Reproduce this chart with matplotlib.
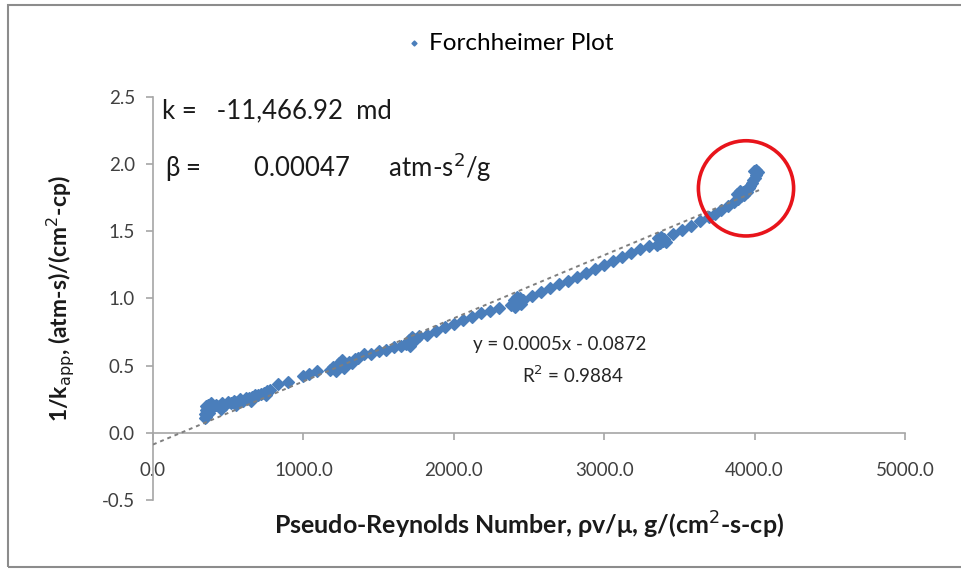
import numpy as np
import matplotlib.pyplot as plt
from matplotlib.patches import Rectangle

plt.rcParams['font.family'] = ['Lato', 'DejaVu Sans']

re_x = [345, 348, 350, 352, 355, 358, 360, 365, 370, 375, 380, 385,
        400, 420, 440, 460, 480, 500, 520, 540, 560, 580, 600, 620, 640, 660, 680, 700, 720, 740, 760, 780,
        450, 550, 650, 750,
        830, 900, 1000, 1040, 1090,
        1180, 1200, 1220, 1240, 1250, 1260, 1270, 1280, 1300, 1320, 1340, 1360,
        1400, 1450, 1500, 1550, 1600, 1650,
        1680, 1700, 1710, 1720, 1730, 1750, 1770,
        1820, 1880, 1940, 2000, 2060, 2120, 2180, 2240, 2300,
        2380, 2400, 2410, 2420, 2430, 2440, 2450, 2460,
        2520, 2580, 2640, 2700, 2760, 2820, 2880, 2940, 3000, 3060, 3120, 3180, 3240, 3300,
        3350, 3360, 3370, 3380, 3390, 3400, 3410,
        3460, 3520, 3580, 3640, 3700, 3740, 3780, 3820, 3860,
        3880, 3890, 3900, 3910, 3920, 3930, 3940, 3950, 3960,
        3970, 3980, 3990, 4000, 4010, 4020, 4010, 3995]
inv_k = [0.11, 0.14, 0.17, 0.20, 0.12, 0.16, 0.19, 0.21, 0.15, 0.18, 0.20, 0.22,
         0.19, 0.21, 0.20, 0.22, 0.21, 0.23, 0.22, 0.24, 0.23, 0.25, 0.24, 0.26, 0.26, 0.27, 0.28, 0.28, 0.29, 0.30, 0.31, 0.32,
         0.18, 0.21, 0.24, 0.28,
         0.36, 0.38, 0.42, 0.44, 0.46,
         0.47, 0.49, 0.46, 0.52, 0.50, 0.54, 0.48, 0.51, 0.53, 0.52, 0.55, 0.56,
         0.59, 0.59, 0.61, 0.62, 0.64, 0.65,
         0.66, 0.69, 0.65, 0.71, 0.68, 0.70, 0.72,
         0.73, 0.76, 0.79, 0.81, 0.84, 0.86, 0.89, 0.91, 0.93,
         0.95, 0.99, 0.94, 1.01, 0.97, 1.00, 0.96, 0.99,
         1.02, 1.05, 1.08, 1.11, 1.13, 1.16, 1.19, 1.22, 1.25, 1.28, 1.31, 1.34, 1.37, 1.39,
         1.40, 1.45, 1.41, 1.46, 1.43, 1.44, 1.42,
         1.48, 1.51, 1.54, 1.58, 1.61, 1.63, 1.66, 1.69, 1.72,
         1.78, 1.74, 1.80, 1.76, 1.79, 1.77, 1.81, 1.79, 1.82,
         1.84, 1.86, 1.88, 1.90, 1.92, 1.94, 1.96, 1.95]

nachylenie = 0.00047
wyraz_wolny = -0.0872
trend_x = [0, 4030]
kolo_x, kolo_y = 3943, 1.82

fig = plt.figure(figsize=(9.61, 5.69), dpi=100)
fig.patches.append(Rectangle((8 / 961, 0.003), 0.999, 1 - 5 / 569 - 0.003, transform=fig.transFigure,
                             fill=False, edgecolor='#8c8c8c', linewidth=1.5))
ax = fig.add_axes([0.1592, 0.1213, 0.7825, 0.7082])

tx = np.array(trend_x)
ax.plot(tx, nachylenie * tx + wyraz_wolny, color='#7f7f7f', linestyle=(0, (2, 2)), linewidth=1.4, zorder=3)
ax.scatter(re_x, inv_k, marker='D', s=34, color='#4a7ebb', edgecolors='#4a7ebb', linewidths=1.2, zorder=2,
           label='Forchheimer Plot')
ax.scatter([kolo_x], [kolo_y], marker='o', s=4700, facecolors='none', edgecolors='#e8141b', linewidths=2.6, zorder=4)

ax.set_xlim(0, 5000)
ax.set_ylim(-0.5, 2.5)
ax.set_xticks([0, 1000, 2000, 3000, 4000, 5000])
ax.set_xticklabels(['0.0', '1000.0', '2000.0', '3000.0', '4000.0', '5000.0'])
ax.set_yticks([-0.5, 0, 0.5, 1.0, 1.5, 2.0, 2.5])
ax.set_yticklabels(['-0.5', '0.0', '0.5', '1.0', '1.5', '2.0', '2.5'])
ax.spines['bottom'].set_position(('data', 0))
ax.spines['top'].set_visible(False)
ax.spines['right'].set_visible(False)
for s in ['left', 'bottom']:
    ax.spines[s].set_color('#a6a6a6')
    ax.spines[s].set_linewidth(1.2)
ax.tick_params(axis='both', colors='#a6a6a6', length=5, width=1.2, labelcolor='#404040', labelsize=13.5)
ax.tick_params(axis='x', pad=16)
ax.tick_params(axis='y', pad=8)

fig.text(0.551, 0.077, 'Pseudo-Reynolds Number, ρv/μ, g/(cm$^{2}$-s-cp)', ha='center', va='center',
         fontsize=18, fontweight='bold', color='#1a1a1a')
fig.text(0.063, 0.475, '1/k$_{\\rm app}$, (atm-s)/(cm$^{2}$-cp)', ha='center', va='center', rotation=90,
         fontsize=16.5, fontweight='bold', color='#1a1a1a')

ax.text(0.012, 0.965, 'k =   -11,466.92  md', transform=ax.transAxes, fontsize=18.5, color='#1a1a1a', va='center')
ax.text(0.016, 0.825, 'β =        0.00047      atm-s$^{2}$/g', transform=ax.transAxes, fontsize=18.5, color='#1a1a1a', va='center')
ax.text(0.541, 0.385, 'y = 0.0005x - 0.0872', transform=ax.transAxes, fontsize=13.5, color='#262626', ha='center', va='center')
ax.text(0.558, 0.31, 'R$^{2}$ = 0.9884', transform=ax.transAxes, fontsize=13.5, color='#262626', ha='center', va='center')

fig.legend(loc='center', bbox_to_anchor=(0.528, 0.924), frameon=False, fontsize=17.5, markerscale=0.4,
           handletextpad=0.1, handlelength=1.0)

fig.savefig('out.png', dpi=100)
